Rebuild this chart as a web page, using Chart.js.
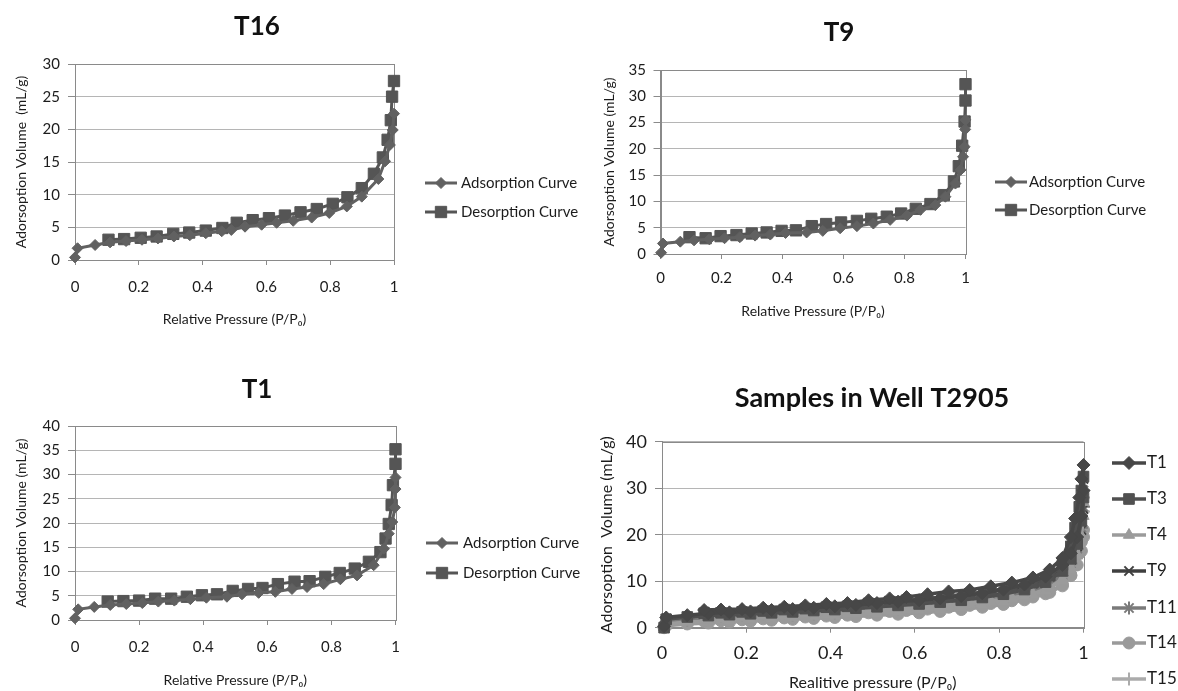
<!DOCTYPE html>
<html><head><meta charset="utf-8">
<script src="https://cdn.jsdelivr.net/npm/chart.js@4.4.0/dist/chart.umd.min.js"></script>
<style>
html,body{margin:0;padding:0;background:#fff;}
body{width:1178px;height:691px;position:relative;overflow:hidden;}
canvas{position:absolute;}
</style></head><body>
<canvas id="c1" width="588" height="345" style="left:0;top:0"></canvas>
<canvas id="c2" width="588" height="345" style="left:590px;top:0"></canvas>
<canvas id="c3" width="590" height="331" style="left:0;top:360px"></canvas>
<canvas id="c4" width="588" height="331" style="left:590px;top:360px"></canvas>
<script>
// ---------- DATA ----------
// T16
const t16AdsX = [0.0, 0.008, 0.063, 0.11, 0.16, 0.21, 0.26, 0.31, 0.36, 0.41, 0.46, 0.49, 0.533, 0.585, 0.632, 0.684, 0.742, 0.797, 0.852, 0.899, 0.951, 0.972, 0.987, 0.996, 1.0];
const t16AdsY = [0.4, 1.8, 2.3, 2.7, 2.9, 3.1, 3.3, 3.6, 3.8, 4.1, 4.4, 4.6, 5.1, 5.4, 5.7, 6.0, 6.5, 7.2, 8.2, 9.7, 12.4, 15.1, 17.6, 19.9, 22.4];
const t16DesX = [1.0, 0.994, 0.99, 0.98, 0.965, 0.937, 0.899, 0.854, 0.808, 0.758, 0.707, 0.658, 0.608, 0.557, 0.507, 0.462, 0.41, 0.358, 0.308, 0.256, 0.206, 0.154, 0.105];
const t16DesY = [27.4, 25.0, 21.4, 18.4, 15.7, 13.2, 11.0, 9.6, 8.6, 7.8, 7.3, 6.8, 6.4, 6.1, 5.7, 4.9, 4.5, 4.2, 4.0, 3.6, 3.4, 3.2, 3.1];
// T9
const t9AdsX = [0.002, 0.008, 0.065, 0.11, 0.16, 0.21, 0.26, 0.31, 0.36, 0.41, 0.479, 0.532, 0.589, 0.644, 0.698, 0.753, 0.808, 0.852, 0.901, 0.934, 0.967, 0.984, 0.992, 0.997, 0.999, 1.0];
const t9AdsY = [0.25, 2.0, 2.35, 2.6, 2.8, 3.0, 3.2, 3.5, 3.7, 4.0, 4.1, 4.4, 4.9, 5.3, 5.8, 6.5, 7.3, 8.4, 9.3, 10.9, 13.4, 16.0, 18.5, 20.4, 23.7, 25.5];
const t9DesX = [1.0, 1.0, 0.997, 0.989, 0.978, 0.962, 0.929, 0.885, 0.837, 0.789, 0.742, 0.691, 0.644, 0.592, 0.543, 0.496, 0.444, 0.397, 0.348, 0.299, 0.249, 0.197, 0.148, 0.095];
const t9DesY = [32.3, 29.2, 25.2, 20.6, 16.7, 13.8, 11.2, 9.5, 8.6, 7.7, 7.1, 6.7, 6.3, 6.0, 5.7, 5.3, 4.5, 4.4, 4.1, 3.9, 3.6, 3.4, 3.0, 3.2];
// T1
const t1AdsX = [0.0, 0.01, 0.06, 0.11, 0.16, 0.21, 0.26, 0.31, 0.36, 0.41, 0.474, 0.521, 0.573, 0.625, 0.677, 0.724, 0.776, 0.828, 0.88, 0.932, 0.964, 0.979, 0.99, 0.998, 1.0, 1.0];
const t1AdsY = [0.35, 2.2, 2.7, 3.1, 3.3, 3.5, 3.8, 4.0, 4.3, 4.6, 4.8, 5.3, 5.6, 5.8, 6.4, 6.8, 7.4, 8.4, 9.2, 11.3, 14.7, 17.8, 20.2, 23.2, 27.0, 29.4];
const t1DesX = [1.0, 1.0, 0.992, 0.988, 0.979, 0.969, 0.953, 0.917, 0.873, 0.826, 0.781, 0.732, 0.685, 0.633, 0.585, 0.54, 0.492, 0.443, 0.396, 0.349, 0.3, 0.25, 0.2, 0.151, 0.102];
const t1DesY = [35.2, 32.2, 27.8, 23.7, 19.8, 16.8, 14.0, 12.0, 10.6, 9.7, 8.9, 8.0, 7.9, 7.4, 6.6, 6.4, 6.0, 5.3, 5.1, 4.8, 4.4, 4.4, 4.0, 3.9, 3.8];
// Samples in Well T2905 (adsorption branch, then desorption branch)
const wellSamples = ['T1', 'T3', 'T4', 'T9', 'T11', 'T14', 'T15'];
const wellAdsX = [0.005, 0.01, 0.06, 0.11, 0.16, 0.21, 0.26, 0.31, 0.36, 0.41, 0.46, 0.51, 0.56, 0.61, 0.66, 0.71, 0.76, 0.81, 0.86, 0.91, 0.95, 0.97, 0.985, 0.995, 1.0];
const wellDesX = [1.0, 0.995, 0.99, 0.98, 0.97, 0.95, 0.92, 0.88, 0.83, 0.78, 0.73, 0.68, 0.63, 0.58, 0.54, 0.49, 0.44, 0.39, 0.34, 0.29, 0.24, 0.19, 0.14, 0.10];
const wT1Ads  = [0.3, 2.2, 2.7, 3.1, 3.3, 3.5, 3.8, 4.0, 4.3, 4.6, 4.9, 5.3, 5.6, 5.9, 6.3, 6.8, 7.4, 8.2, 9.3, 11.0, 13.5, 16.0, 19.5, 24.0, 29.5];
const wT1Des  = [35.0, 32.0, 28.0, 23.5, 19.5, 15.0, 12.5, 10.8, 9.7, 8.9, 8.1, 7.8, 7.2, 6.6, 6.3, 5.9, 5.3, 5.1, 4.8, 4.5, 4.3, 4.0, 3.9, 3.8];
const wT3Ads  = [0.0, 1.8, 2.3, 2.6, 2.8, 3.0, 3.2, 3.4, 3.7, 3.9, 4.2, 4.5, 4.8, 5.1, 5.5, 5.9, 6.5, 7.2, 8.2, 9.8, 12.2, 14.8, 18.0, 23.0, 28.0];
const wT3Des  = [32.5, 29.5, 26.0, 21.5, 17.5, 13.5, 11.2, 9.7, 8.7, 7.9, 7.3, 6.8, 6.3, 5.9, 5.6, 5.2, 4.6, 4.4, 4.1, 3.9, 3.6, 3.4, 3.2, 3.1];
const wT4Ads  = [0.1, 0.8, 1.2, 1.4, 1.6, 1.8, 2.0, 2.2, 2.4, 2.6, 2.8, 3.1, 3.4, 3.7, 4.0, 4.4, 4.9, 5.6, 6.6, 8.0, 10.2, 12.5, 15.5, 19.5, 24.0];
const wT4Des  = [27.0, 24.0, 20.5, 16.5, 13.0, 10.5, 8.6, 7.3, 6.4, 5.8, 5.3, 4.9, 4.5, 4.2, 3.9, 3.6, 3.1, 2.9, 2.7, 2.5, 2.3, 2.1, 1.9, 1.8];
const wT9Ads  = [0.25, 2.0, 2.35, 2.6, 2.8, 3.0, 3.2, 3.5, 3.7, 4.0, 4.2, 4.5, 4.9, 5.2, 5.5, 6.0, 6.5, 7.3, 8.4, 9.6, 12.5, 14.5, 17.5, 21.0, 25.5];
const wT9Des  = [32.0, 29.0, 25.0, 20.5, 16.5, 13.5, 11.0, 9.5, 8.5, 7.7, 7.1, 6.6, 6.2, 5.9, 5.6, 5.2, 4.5, 4.3, 4.0, 3.8, 3.5, 3.3, 3.1, 3.1];
const wT11Ads = [0.2, 1.2, 1.7, 2.0, 2.2, 2.4, 2.6, 2.8, 3.0, 3.2, 3.5, 3.8, 4.1, 4.4, 4.8, 5.2, 5.7, 6.4, 7.4, 8.9, 11.3, 13.8, 17.0, 21.5, 26.0];
const wT11Des = [29.5, 26.5, 22.5, 18.5, 15.0, 12.0, 9.8, 8.4, 7.5, 6.8, 6.2, 5.8, 5.4, 5.0, 4.7, 4.4, 3.8, 3.6, 3.4, 3.1, 2.9, 2.7, 2.5, 2.4];
const wT14Ads = [0.0, 0.4, 0.8, 1.0, 1.2, 1.4, 1.6, 1.8, 2.0, 2.2, 2.4, 2.7, 2.9, 3.2, 3.5, 3.9, 4.4, 5.0, 6.0, 7.3, 9.3, 11.3, 13.5, 16.5, 19.5];
const wT14Des = [21.0, 18.5, 16.0, 13.5, 11.2, 9.0, 7.6, 6.6, 5.8, 5.2, 4.8, 4.4, 4.0, 3.7, 3.5, 3.2, 2.7, 2.5, 2.3, 2.1, 1.9, 1.7, 1.5, 1.4];
const wT15Ads = [0.1, 0.9, 1.4, 1.7, 1.9, 2.1, 2.3, 2.5, 2.7, 2.9, 3.1, 3.4, 3.7, 4.0, 4.3, 4.7, 5.3, 6.0, 7.0, 8.5, 10.8, 13.0, 16.0, 20.5, 25.0];
const wT15Des = [28.0, 25.0, 21.5, 17.5, 14.0, 11.2, 9.2, 7.9, 7.0, 6.3, 5.8, 5.3, 4.9, 4.6, 4.3, 4.0, 3.4, 3.2, 3.0, 2.8, 2.6, 2.4, 2.2, 2.1];
const wellAds = [wT1Ads, wT3Ads, wT4Ads, wT9Ads, wT11Ads, wT14Ads, wT15Ads];
const wellDes = [wT1Des, wT3Des, wT4Des, wT9Des, wT11Des, wT14Des, wT15Des];
const xTicks = [0, 0.2, 0.4, 0.6, 0.8, 1];

// ---------- HELPERS ----------
const FAMILY = "Lato, 'Open Sans', 'DejaVu Sans', sans-serif";
Chart.defaults.font.family = FAMILY;
Chart.defaults.color = '#1c1c1c';
const pts = (xs, ys) => xs.map((x, i) => ({x: x, y: ys[i]}));

const plotFrame = {
  id: 'plotFrame',
  beforeDatasetsDraw(chart) {
    const {ctx, chartArea: a} = chart;
    ctx.save();
    ctx.strokeStyle = '#8a8a8a'; ctx.lineWidth = 1;
    ctx.strokeRect(Math.round(a.left) + 0.5, Math.round(a.top) + 0.5, Math.round(a.right - a.left), Math.round(a.bottom - a.top));
    ctx.restore();
  }
};
function titlePlugin(t) {
  return {
    id: 'panelTitle',
    afterDraw(chart) {
      const ctx = chart.ctx;
      ctx.save();
      ctx.fillStyle = '#111';
      ctx.font = 'bold ' + t.size + 'px ' + FAMILY;
      ctx.textAlign = 'center'; ctx.textBaseline = 'middle';
      ctx.fillText(t.text, t.x, t.y);
      ctx.restore();
    }
  };
}
function legendPlugin(o) {
  return {
    id: 'lineLegend',
    afterDraw(chart) {
      const ctx = chart.ctx;
      chart.data.datasets.forEach((ds, i) => {
        const y = o.ys[i];
        ctx.save();
        ctx.strokeStyle = ds.borderColor; ctx.lineWidth = ds.borderWidth;
        ctx.beginPath(); ctx.moveTo(o.x, y); ctx.lineTo(o.x + o.len, y); ctx.stroke();
        ctx.fillStyle = ds.pointBackgroundColor; ctx.strokeStyle = ds.pointBorderColor;
        ctx.lineWidth = ds.pointBorderWidth;
        Chart.helpers.drawPoint(ctx, {pointStyle: ds.pointStyle, radius: ds.pointRadius, rotation: 0, borderWidth: ds.pointBorderWidth}, o.x + o.len / 2, y);
        ctx.fillStyle = '#1c1c1c'; ctx.font = o.font;
        ctx.textBaseline = 'middle'; ctx.textAlign = 'left';
        ctx.fillText(ds.label, o.textX, y);
        ctx.restore();
      });
    }
  };
}
function axes(o) {
  return {
    x: {
      type: 'linear', min: 0, max: 1,
      afterFit: s => { s.height = o.xH; },
      afterBuildTicks: s => { s.ticks = xTicks.map(v => ({value: v})); },
      ticks: {padding: o.xPad, font: {size: o.tick}, maxRotation: 0, autoSkip: false,
              callback: v => String(+Number(v).toFixed(1))},
      grid: {drawOnChartArea: false, tickLength: 5, color: '#8a8a8a', tickColor: '#8a8a8a'},
      border: {color: '#8a8a8a'},
      title: {display: true, text: o.xTitle, font: {size: o.axT, lineHeight: 1}, padding: {top: 0, bottom: o.xTitlePad}}
    },
    y: {
      type: 'linear', min: 0, max: o.yMax,
      afterFit: s => { s.width = o.yW; },
      ticks: {stepSize: o.yStep, padding: o.yPad, font: {size: o.tick}},
      grid: {color: '#b5b5b5', tickLength: 7, tickColor: '#8a8a8a'},
      border: {color: '#8a8a8a'},
      title: {display: true, text: o.yTitle, font: {size: o.axT, lineHeight: 1}, padding: {top: o.yTitlePad, bottom: 0}}
    }
  };
}
function isoChart(id, title, adsX, adsY, desX, desY, L) {
  const mk = (label, data, style, r, color) => ({
    label: label, data: data, showLine: true, tension: 0, clip: false,
    borderColor: color, borderWidth: 3,
    pointStyle: style, pointRadius: r, pointHoverRadius: r,
    pointBackgroundColor: color, pointBorderColor: color, pointBorderWidth: 1
  });
  return new Chart(document.getElementById(id), {
    type: 'scatter',
    data: {datasets: [
      mk('Adsorption Curve', pts(adsX, adsY), 'rectRot', 5.5, '#616161'),
      mk('Desorption Curve', pts(desX, desY), 'rect', 8, '#555555')
    ]},
    options: {
      responsive: false, animation: false, events: [],
      layout: {padding: {left: 0, top: L.top, right: L.R, bottom: 0}},
      plugins: {legend: {display: false}, tooltip: {enabled: false}, title: {display: false}},
      scales: axes(L)
    },
    plugins: [plotFrame, legendPlugin(L.leg), titlePlugin({text: title, size: 26, x: L.tx, y: L.ty})]
  });
}

// ---------- CHARTS ----------
isoChart('c1', 'T16', t16AdsX, t16AdsY, t16DesX, t16DesY, {
  top: 64, R: 194, xH: 85, yW: 75, yMax: 30, yStep: 5, tick: 15, xPad: 13, yPad: 8, axT: 14,
  xTitle: 'Relative Pressure (P/P₀)', xTitlePad: 19, yTitle: 'Adorsoption Volume  (mL/g)', yTitlePad: 14,
  tx: 257, ty: 27,
  leg: {x: 425, len: 32, textX: 461, ys: [183, 212], font: "15px " + FAMILY}
});
isoChart('c2', 'T9', t9AdsX, t9AdsY, t9DesX, t9DesY, {
  top: 70, R: 212.5, xH: 91, yW: 70.5, yMax: 35, yStep: 5, tick: 15, xPad: 10, yPad: 7.5, axT: 14,
  xTitle: 'Relative Pressure (P/P₀)', xTitlePad: 27, yTitle: 'Adorsoption Volume (mL/g)', yTitlePad: 12,
  tx: 249, ty: 33,
  leg: {x: 405, len: 32, textX: 439, ys: [182, 210], font: "15px " + FAMILY}
});
isoChart('c3', 'T1', t1AdsX, t1AdsY, t1DesX, t1DesY, {
  top: 66, R: 194.5, xH: 71, yW: 75, yMax: 40, yStep: 5, tick: 15, xPad: 13, yPad: 8, axT: 14,
  xTitle: 'Relative Pressure (P/P₀)', xTitlePad: 4, yTitle: 'Adorsoption Volume (mL/g)', yTitlePad: 14,
  tx: 257, ty: 30,
  leg: {x: 426, len: 32, textX: 463, ys: [183, 213], font: "15px " + FAMILY}
});

// Well chart
const wellStyles = [
  {s: 'rectRot', r: 6.5, c: '#474747', bw: 1},
  {s: 'rect', r: 7.5, c: '#505050', bw: 1},
  {s: 'triangle', r: 6.5, c: '#9b9b9b', bw: 1},
  {s: 'crossRot', r: 6.5, c: '#3f3f3f', bw: 2},
  {s: 'star', r: 6.5, c: '#7a7a7a', bw: 2},
  {s: 'circle', r: 6, c: '#9a9a9a', bw: 1},
  {s: 'cross', r: 6.5, c: '#ababab', bw: 2}
];
const L4 = {
  top: 81.7, R: 94.5, xH: 63.3, yW: 72, yMax: 40, yStep: 10, tick: 18, xPad: 9.5, yPad: 8, axT: 16,
  xTitle: 'Realitive pressure (P/P₀)', xTitlePad: 0, yTitle: 'Adorsoption  Volume (mL/g)', yTitlePad: 9,
  leg: {x: 522, len: 34, textX: 557, ys: [103, 139, 175, 211, 248, 283, 319], font: "17px " + FAMILY}
};
new Chart(document.getElementById('c4'), {
  type: 'scatter',
  data: {datasets: wellSamples.map((name, i) => ({
    label: name,
    data: pts(wellAdsX, wellAds[i]).concat(pts(wellDesX, wellDes[i])),
    showLine: true, tension: 0, clip: false,
    borderColor: wellStyles[i].c, borderWidth: 3.5,
    pointStyle: wellStyles[i].s, pointRadius: wellStyles[i].r, pointHoverRadius: wellStyles[i].r,
    pointBackgroundColor: wellStyles[i].c, pointBorderColor: wellStyles[i].c, pointBorderWidth: wellStyles[i].bw
  }))},
  options: {
    responsive: false, animation: false, events: [],
    layout: {padding: {left: 0, top: L4.top, right: L4.R, bottom: 0}},
    plugins: {legend: {display: false}, tooltip: {enabled: false}, title: {display: false}},
    scales: axes(L4)
  },
  plugins: [plotFrame, legendPlugin(L4.leg), titlePlugin({text: 'Samples in Well T2905', size: 27, x: 282, y: 38})]
});
</script>
</body></html>
